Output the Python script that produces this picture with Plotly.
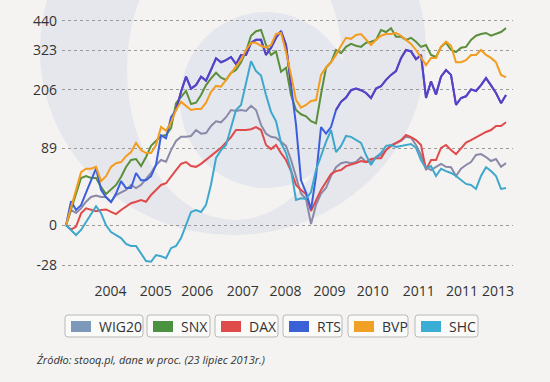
import numpy as np
import plotly.graph_objects as go

# ---------------- data (percent change since start) ----------------
# time grid in fractional years, early 2003 -> 23 July 2013
t = np.linspace(2003.06, 2013.56, 89)

wig20 = [0, 13.5, 10.7, 15, 21.5, 26.4, 27.8, 26.4, 26.4, 21.5, 28.4, 31, 33.9, 39.5, 36, 39.5, 47.3, 54, 64.5, 71.4, 69, 86,
         100.5, 107.5, 107.5, 109, 119.5, 113, 114, 127, 136, 134, 144, 159, 157, 159, 157, 168, 159, 129, 113, 107.5, 106, 99,
         92.6, 71.4, 48, 30, 24.2, 1, 18.3, 30, 36, 50.2, 61.6, 67, 68.5, 67, 68.5, 75.6, 68.5, 68.5, 75.6, 78.6, 86, 94,
         97, 100.5, 107.5, 106, 94, 78.6, 61.6, 57.8, 62, 66, 62, 61.6, 50.2, 59.5, 64.5, 68.5, 78.6, 80, 75.6, 70, 72.8, 62, 67]

snx = [0, 13.5, 30.5, 47.8, 50.2, 47.8, 47.8, 37.3, 29.5, 33.9, 39.5, 49, 61.8, 71.4, 72.8, 63, 75.8, 92.6, 100.6, 109, 110.7, 123,
       174, 187, 203, 172, 175, 193, 218, 236, 252, 238, 232, 252, 260, 284, 320, 378, 396, 401, 343, 308, 320, 255,
       267, 193, 159, 150, 146, 136, 132, 195, 267, 284, 325, 314, 336, 347, 340, 336, 351, 355, 362, 401, 393, 409,
       374, 374, 362, 370, 355, 336, 343, 308, 301, 336, 351, 325, 318, 333, 336, 362, 378, 385, 389, 378, 385, 393, 409]

dax = [0, -3.5, -1, 10.3, 15, 14, 12.4, 13.5, 14, 11.8, 9.7, 13.5, 16.6, 20, 21.5, 23.2, 21.5, 28.4, 33.9, 39.5, 41.5, 50,
       57.8, 66, 68.5, 63, 62, 66, 71.4, 77, 83, 89.5, 98, 107, 119.5, 119.5, 119.5, 121, 125, 119.5, 94, 87.5, 94, 81.5,
       71.4, 56.5, 39.5, 33.9, 29.5, 12.5, 23.2, 33.9, 43, 52.7, 56.4, 57.8, 63, 64.5, 67, 70, 68.5, 72.8, 74, 74, 86, 92.6,
       97, 102, 110.7, 107, 102, 94, 57.8, 71.4, 71.4, 89.5, 94, 86, 80, 89.5, 98, 102, 107, 112, 116, 119.5, 127, 127, 134]

rts = [0, 22, 13.5, 18, 31, 45, 60, 34, 26, 21, 30, 44, 36, 36, 54, 45, 45, 50, 65, 110, 105, 144,
       159, 201, 241, 209, 218, 241, 230, 260, 297, 284, 291, 301, 278, 308, 308, 351, 362, 362, 308, 333, 370, 397,
       343, 218, 129, 45, 31, 14, 50, 125, 113, 125, 159, 177, 187, 205, 209, 205, 198, 186, 209, 215, 232, 246,
       257, 297, 325, 320, 294, 308, 186, 228, 194, 241, 260, 246, 170, 186, 190, 207, 203, 218, 237, 218, 198, 174, 193]

bvp = [0, 16.5, 36, 55, 59.5, 59.5, 62, 44, 50, 62, 67, 68.5, 77, 83, 97.5, 86, 81.5, 81.5, 94, 125, 118, 134,
       159, 177, 168, 159, 161, 161, 175, 201, 216, 214, 232, 252, 271, 291, 325, 351, 351, 340, 333, 343, 385, 389,
       318, 246, 181, 164, 170, 179, 181, 246, 268, 284, 308, 340, 370, 366, 381, 385, 362, 343, 362, 378, 385, 385,
       389, 378, 362, 347, 325, 301, 275, 298, 298, 336, 355, 340, 284, 284, 291, 308, 308, 325, 308, 298, 284, 246, 239]

shc = [0, -3.8, -7.7, -3.8, 3, 10.5, 17, 10.5, 0, -5.4, -7.7, -10, -14.3, -15.7, -15.7, -20.4, -25.5, -26, -21.8, -22.5, -23.8, -17.2,
       -15.7, -10, 0.2, 11.6, 13.5, 11.6, 18.3, 40, 74.3, 86, 94, 123, 159, 170, 225, 287, 257, 244, 193, 155, 136, 97.5,
       81.5, 57.8, 23.2, 25, 24.2, 31.6, 57.8, 78.6, 99, 119.5, 83, 92.6, 109, 107.5, 102, 97.5, 78.6, 64.5, 75.6, 81.5, 92.6, 94,
       91, 92.6, 94, 95.5, 89.5, 71.4, 59.5, 63, 50.2, 59.5, 56.4, 54, 50.2, 45.4, 40.7, 39.5, 35, 50.2, 61.6, 56.5, 50.2, 35, 36]

names = ["WIG20", "SNX", "DAX", "RTS", "BVP", "SHC"]
series = [wig20, snx, dax, rts, bvp, shc]
line_colors = ["#8a8aa8", "#5b8f3c", "#e04a4a", "#3b5fdc", "#f39c1e", "#3ea8cc"]
swatch_colors = ["#7d98b8", "#4a9140", "#df4a4a", "#3a62d6", "#f0a125", "#3aaed4"]
rts_high_color = "#5a40c2"   # RTS line turns violet in its upper range
rts_high_from = 150

tick_years = [2004.12, 2005.20, 2006.19, 2007.28, 2008.30, 2009.35, 2010.38, 2011.48, 2012.51, 2013.37]
tick_text = ["2004", "2005", "2006", "2007", "2008", "2009", "2010", "2011", "2011", "2013"]
y_ticks = [440, 323, 206, 89, 0, -28]

source_text = "Źródło: stooq.pl, dane w proc. (23 lipiec 2013r.)"

# ---------------- layout geometry (pixels) ----------------
W, H = 550, 382
L, R, T, B = 62, 513, 10, 272
BG = "#f4f3f1"
FONT = "Open Sans"


def px(x, y):
    return (x - L) / (R - L), (B - y) / (B - T)


fig = go.Figure()
for name, vals, col in zip(names, series, line_colors):
    fig.add_trace(go.Scatter(
        x=t, y=[100 + v for v in vals], mode="lines", name=name,
        line=dict(color=col, width=2), showlegend=False, hoverinfo="skip"))
    if name == "RTS":
        fig.add_trace(go.Scatter(
            x=t, y=[100 + v if v >= rts_high_from else None for v in vals], mode="lines",
            name=name, line=dict(color=rts_high_color, width=2), connectgaps=False,
            showlegend=False, hoverinfo="skip"))

shapes = []


def ellipse(cx, cy, rx, ry, color):
    x0, y1 = px(cx - rx, cy - ry)
    x1, y0 = px(cx + rx, cy + ry)
    shapes.append(dict(type="circle", xref="paper", yref="paper", x0=x0, x1=x1, y0=y0, y1=y1,
                       fillcolor=color, line=dict(width=0), layer="below"))


# faint watermark ring + disc
ellipse(233, 50, 193, 185, "#e6e7ed")
ellipse(235, 70, 108, 150, BG)
ellipse(266, 100, 86, 88, "#e5e7ee")

# zero line (log axis -> shapes use log10 of value)
shapes.append(dict(type="line", xref="paper", x0=0, x1=1, yref="y", y0=np.log10(100), y1=np.log10(100),
                   line=dict(color="#5c5c5c", width=1.2), layer="above"))

# legend boxes
boxes = [(65, 143), (147, 210), (215, 278), (283, 342), (348, 408), (415, 478)]
bt, bb = 315, 337
annotations = []
for (bx0, bx1), name, sc in zip(boxes, names, swatch_colors):
    x0, yt = px(bx0, bt)
    x1, yb = px(bx1, bb)
    rx, ry = 3 / (R - L), 3 / (B - T)
    path = (f"M {x0+rx},{yt} L {x1-rx},{yt} Q {x1},{yt} {x1},{yt-ry} L {x1},{yb+ry} "
            f"Q {x1},{yb} {x1-rx},{yb} L {x0+rx},{yb} Q {x0},{yb} {x0},{yb+ry} "
            f"L {x0},{yt-ry} Q {x0},{yt} {x0+rx},{yt} Z")
    shapes.append(dict(type="path", xref="paper", yref="paper", path=path,
                       fillcolor="#fafaf9", line=dict(color="#b8b8b8", width=1), layer="above"))
    sx0, sy1 = px(bx0 + 6, 321)
    sx1, sy0 = px(bx0 + 26, 332)
    shapes.append(dict(type="rect", xref="paper", yref="paper", x0=sx0, x1=sx1, y0=sy0, y1=sy1,
                       fillcolor=sc, line=dict(width=0), layer="above"))
    tx, ty = px(bx0 + 32, 326.5)
    annotations.append(dict(xref="paper", yref="paper", x=tx, y=ty, xanchor="left", yanchor="middle",
                            text=name, showarrow=False, font=dict(family=FONT, size=14, color="#333333")))

sx, sy = px(34, 359)
annotations.append(dict(xref="paper", yref="paper", x=sx, y=sy, xanchor="left", yanchor="middle",
                        text=f"<i>{source_text}</i>", showarrow=False,
                        font=dict(family=FONT, size=11, color="#333333")))

ylo = 2 - (B - 225.3) / 279
yhi = 2 + (225.3 - T) / 279
xlo = 2013.56 - (506 - L) / 41.9
xhi = 2013.56 + (R - 506) / 41.9

fig.update_layout(
    width=W, height=H,
    margin=dict(l=L, r=W - R, t=T, b=H - B, pad=0, autoexpand=False),
    paper_bgcolor=BG, plot_bgcolor="rgba(0,0,0,0)",
    shapes=shapes, annotations=annotations, showlegend=False,
    xaxis=dict(range=[xlo, xhi], tickvals=tick_years, ticktext=tick_text, showgrid=False,
               zeroline=False, showline=False, ticks="", ticklabelstandoff=9, automargin=False,
               tickfont=dict(family=FONT, size=14, color="#333333")),
    yaxis=dict(type="log", range=[ylo, yhi], tickvals=[100 + v for v in y_ticks],
               ticktext=[str(v) for v in y_ticks], showgrid=True, gridcolor="#9a9a9a",
               griddash="dot", gridwidth=1, zeroline=False, showline=False, ticks="",
               ticklabelstandoff=4, automargin=False,
               tickfont=dict(family=FONT, size=14, color="#333333")),
)

fig.write_html("out.html", config={"displayModeBar": False, "staticPlot": True},
               post_script="document.body.style.margin='0px';document.body.style.background='" + BG + "';")
